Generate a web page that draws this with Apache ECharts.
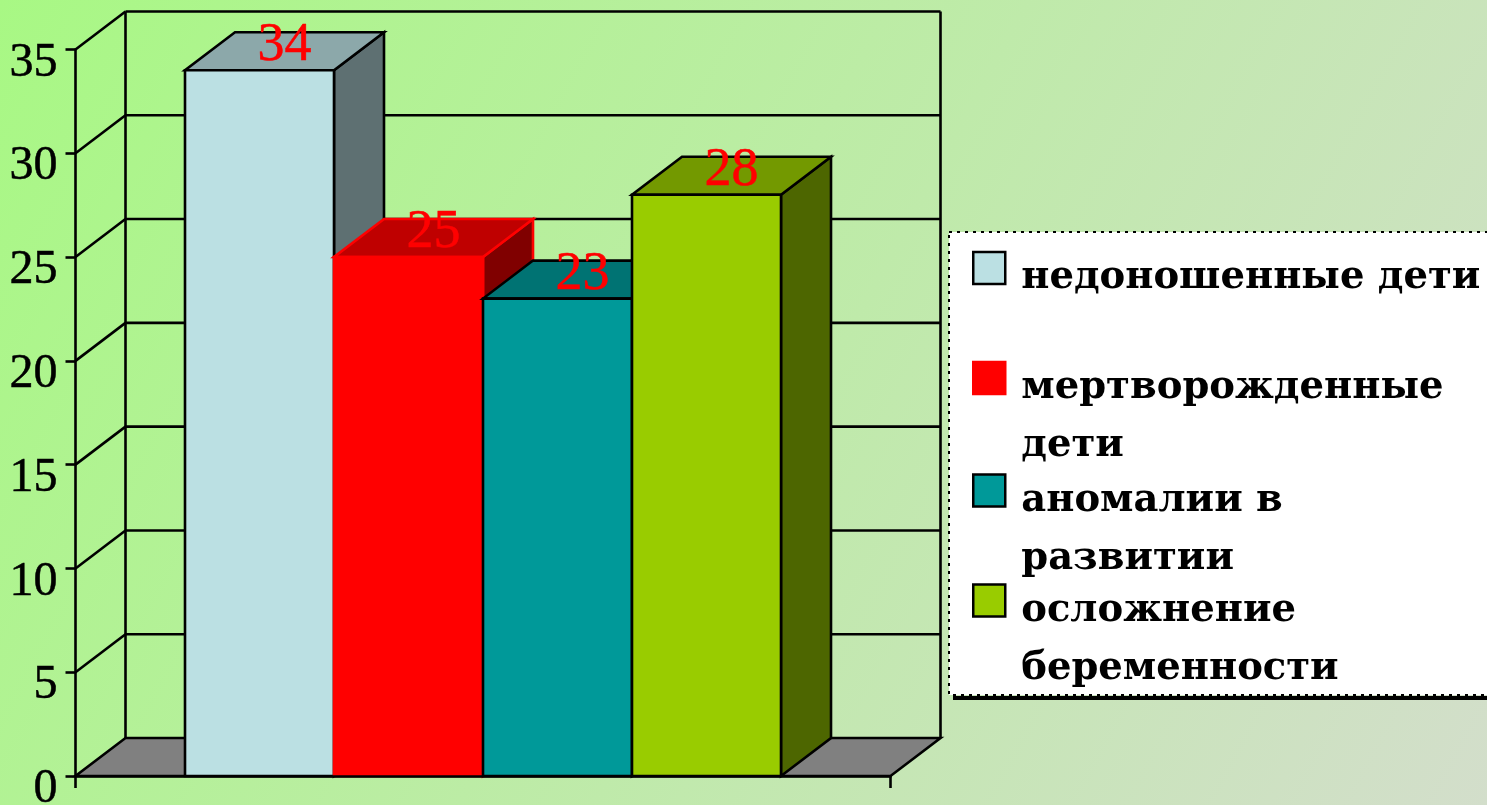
<!DOCTYPE html>
<html><head><meta charset="utf-8">
<style>html,body{margin:0;padding:0;background:#c0eca6}#c{width:1487px;height:805px}</style>
<script src="https://cdn.jsdelivr.net/npm/echarts@6/dist/echarts.min.js"></script>
</head><body><div id="c"></div>
<script>
const seriesNames = ['недоношенные дети', 'мертворожденные дети', 'аномалии в развитии', 'осложнение беременности'];
const legendLines = ['недоношенные дети', 'мертворожденные\nдети', 'аномалии в\nразвитии', 'осложнение\nбеременности'];
const seriesValues = [34, 25, 23, 28];
const yTicks = [0, 5, 10, 15, 20, 25, 30, 35];
const frontColors = ['#BBE0E3', '#FF0000', '#009999', '#99CC00'];
const topColors = ['#8CA8AA', '#BF0000', '#007373', '#739900'];
const sideColors = ['#5E7072', '#800000', '#004D4D', '#4D6600'];
const edgeColors = ['#000', '#FF0000', '#000', '#000'];
const legendIconCenters = [268, 378, 490.5, 600.5];

const DX = 50, DY = -38, BARW = 149 / 815, LH = 58, TEXT_SHIFT = 10, LW = 2.6;
const chart = echarts.init(document.getElementById('c'));

function wall(params, api) {
  const v = api.value(1);
  const p = api.coord([0, v]);
  const band = api.size([1, 0])[0];
  const xl = p[0] - band / 2, xr = p[0] + band / 2, y = p[1];
  const st = { stroke: '#000', lineWidth: LW, fill: null };
  const kids = [];
  const line = (a, b, c, d) => ({ type: 'line', shape: { x1: a, y1: b, x2: c, y2: d }, style: st });
  if (v === 0) {
    const top = api.coord([0, yTicks[yTicks.length - 1]])[1];
    kids.push({ type: 'polygon', shape: { points: [[xl, y], [xr, y], [xr + DX, y + DY], [xl + DX, y + DY]] },
      style: { fill: '#808080', stroke: '#000', lineWidth: LW } });
    kids.push(line(xl + DX, y + DY, xl + DX, top + DY));
    kids.push(line(xr + DX, y + DY, xr + DX, top + DY));
  } else {
    kids.push(line(xl, y, xl + DX, y + DY));
    kids.push(line(xl + DX, y + DY, xr + DX, y + DY));
  }
  return { type: 'group', children: kids };
}

function bar(i) {
  return function (params, api) {
    const v = api.value(1);
    const c = api.coord([0, v]), b = api.coord([0, 0]);
    const band = api.size([1, 0])[0], w = band * BARW;
    const x0 = c[0] - 2 * w + i * w, x1 = x0 + w, yt = c[1], yb = b[1];
    const edge = { stroke: edgeColors[i], lineWidth: LW, lineJoin: 'miter' };
    return { type: 'group', children: [
      { type: 'polygon', shape: { points: [[x1, yb], [x1 + DX, yb + DY], [x1 + DX, yt + DY], [x1, yt]] },
        style: { fill: sideColors[i], ...edge } },
      { type: 'polygon', shape: { points: [[x0, yt], [x1, yt], [x1 + DX, yt + DY], [x0 + DX, yt + DY]] },
        style: { fill: topColors[i], ...edge } },
      { type: 'rect', shape: { x: x0, y: yt, width: w, height: yb - yt },
        style: { fill: frontColors[i], ...edge } }
    ] };
  };
}

function valueLabel(params, api) {
  const i = params.dataIndex, v = api.value(1);
  const c = api.coord([0, v]);
  const w = api.size([1, 0])[0] * BARW;
  return { type: 'text', x: c[0] - 2 * w + i * w + w / 2 + 25, y: c[1] - 24,
    style: { text: String(v), fill: '#FF0000', stroke: '#FF0000', lineWidth: 0.5,
      font: '54px "Liberation Serif"', align: 'center', verticalAlign: 'middle' } };
}

const barSeries = seriesNames.map((n, i) => ({
  type: 'custom', name: n, z: 3 + i, coordinateSystem: 'cartesian2d',
  encode: { x: 0, y: 1 }, data: [[0, seriesValues[i]]], renderItem: bar(i),
  itemStyle: { color: frontColors[i] }, silent: true
}));

const legends = seriesNames.map((n, i) => {
  const lines = legendLines[i].split('\n');
  // A spacer line above the text keeps the icon beside the first line, not the block's middle.
  const spacer = lines.length > 1 ? LH + 2 * TEXT_SHIFT : 2 * TEXT_SHIFT;
  const blockH = spacer + lines.length * LH;
  const text = '{a| }\n' + lines.map(l => '{b|' + l + '}').join('\n');
  const font = { fontFamily: 'DejaVu Serif', fontWeight: 'bold', fontSize: 38.5, color: '#000' };
  return {
    left: 972, top: legendIconCenters[i] - blockH / 2, padding: 0, orient: 'vertical',
    selectedMode: false, itemWidth: 32, itemHeight: 32,
    data: [{ name: n, icon: 'rect',
      itemStyle: { color: frontColors[i], borderColor: i === 1 ? '#FF0000' : '#000', borderWidth: 2.5 } }],
    formatter: () => text,
    textStyle: { ...font, padding: [0, 0, 0, 11],
      rich: { a: { fontSize: 1, lineHeight: spacer, height: spacer }, b: { ...font, lineHeight: LH, height: LH } } }
  };
});

chart.setOption({
  animation: false,
  backgroundColor: new echarts.graphic.LinearGradient(0, 0, 1, 1, [
    { offset: 0, color: '#A8F884' }, { offset: 1, color: '#D3DECB' }]),
  grid: { left: 75.5, top: 49.5, width: 815, height: 726.5, outerBoundsMode: 'none' },
  xAxis: { type: 'category', data: [''], z: 20,
    axisLine: { lineStyle: { color: '#000', width: LW } },
    axisTick: { show: true, length: 12, lineStyle: { color: '#000', width: LW } },
    axisLabel: { show: false }, splitLine: { show: false } },
  yAxis: { type: 'value', min: 0, max: 35, interval: 5, z: 20,
    axisLine: { show: true, lineStyle: { color: '#000', width: LW } },
    axisTick: { show: true, length: 10, lineStyle: { color: '#000', width: LW } },
    splitLine: { show: false },
    axisLabel: { color: '#000', fontFamily: 'Liberation Serif', fontSize: 48, margin: 18,
      textBorderColor: '#000', textBorderWidth: 0.5,
      verticalAlign: 'top', lineHeight: 27, hideOverlap: false } },
  legend: legends,
  graphic: [
    { type: 'rect', z: 1, shape: { x: 949, y: 232, width: 600, height: 463 },
      style: { fill: '#fff', stroke: '#000', lineWidth: 2, lineDash: [3, 5] } },
    { type: 'line', z: 1, shape: { x1: 953, y1: 698, x2: 1487, y2: 698 },
      style: { stroke: '#000', lineWidth: 4 } }
  ],
  series: [
    { type: 'custom', name: 'walls', z: 1, silent: true, coordinateSystem: 'cartesian2d', encode: { x: 0, y: 1 },
      data: yTicks.map(t => [0, t]), renderItem: wall },
    ...barSeries,
    { type: 'custom', name: 'values', z: 10, silent: true, coordinateSystem: 'cartesian2d', encode: { x: 0, y: 1 },
      data: seriesValues.map(v => [0, v]), renderItem: valueLabel }
  ]
});
</script></body></html>
